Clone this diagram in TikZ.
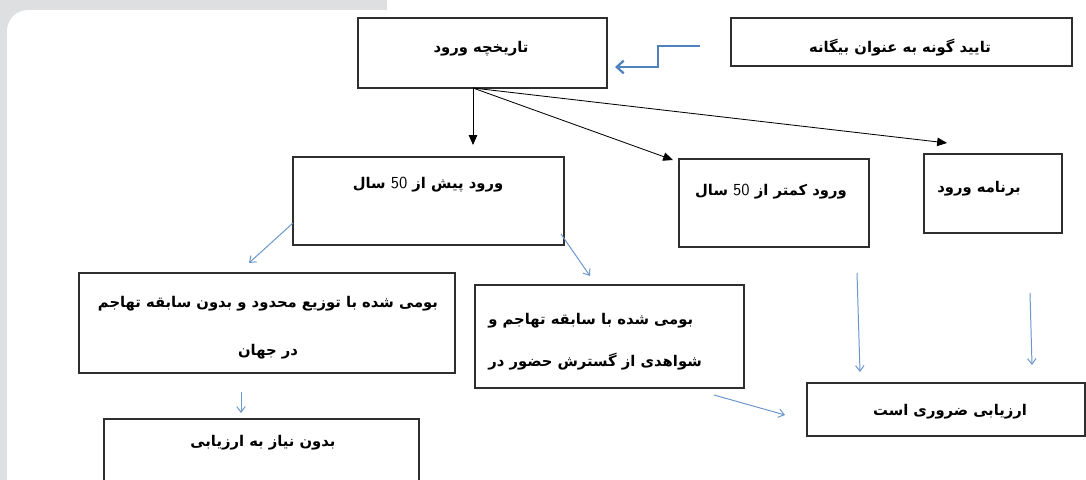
\documentclass[tikz,border=0pt]{standalone}
\usepackage{fontspec}
\newfontfamily\arabicfont[Script=Arabic]{DejaVu Sans}
\TeXXeTstate=1
\usepackage{xcolor}
\usetikzlibrary{arrows.meta,calc,fit}

\definecolor{pagegray}{HTML}{DEDFE1}
\definecolor{elbowblue}{HTML}{4F81BD}
\definecolor{linkblue}{HTML}{6A96CC}
\definecolor{boxline}{HTML}{2E2E2E}

\begin{document}
\begin{tikzpicture}[x=0.025cm,y=-0.025cm,
  box/.style={draw=boxline,line width=.8pt,inner sep=0pt},
  fa/.style={font=\arabicfont\bfseries\fontsize{10.5}{13}\selectfont,inner sep=0pt},
  tree/.style={-{Triangle[length=7pt,width=6pt]},line width=.6pt,black},
  link/.style={-{Straight Barb[length=4pt,width=6pt]},line width=.7pt,linkblue},
  elbow/.style={-{Straight Barb[length=5pt,width=9pt]},line width=1.6pt,elbowblue}]
\useasboundingbox (0,0) rectangle (1086,480);
\clip (0,0) rectangle (1086,480);
% page background
\fill[white] (0,0) rectangle (1086,480);
\fill[pagegray] (0,0) rectangle (387,480);
\fill[white,rounded corners=15] (7,10) rectangle (1120,520);

% boxes
\node[box,fit={(358,18)(607,88)}] (history) {};
\node[box,fit={(731,18)(1072,66)}] (alien) {};
\node[box,fit={(293,157)(564,245)}] (before) {};
\node[box,fit={(679,159)(869,247)}] (after) {};
\node[box,fit={(924,154)(1062,233)}] (plan) {};
\node[box,fit={(79,273)(455,373)}] (limited) {};
\node[box,fit={(475,285)(744,388)}] (invasive) {};
\node[box,fit={(807,383)(1085,436)}] (needed) {};
\node[box,fit={(104,419)(419,500)}] (notneeded) {};

% texts
\node[fa] (history-t) at (481,49) {\beginR تاریخچه ورود\endR};
\node[fa] (alien-t) at (900,48) {\beginR تایید گونه به عنوان بیگانه\endR};
\node[fa] (before-t) at (428,185) {\beginR ورود پیش از \beginL{\sffamily\mdseries\large 50}\endL{} سال\endR};
\node[fa] (after-t) at (771,192) {\beginR ورود کمتر از \beginL{\sffamily\mdseries\large 50}\endL{} سال\endR};
\node[fa] (plan-t) at (979,189) {\beginR برنامه ورود\endR};
\node[fa,align=center,font=\arabicfont\bfseries\fontsize{10.5}{34}\selectfont] (limited-t) at (268,328)
  {\beginR بومی شده با توزیع محدود و بدون سابقه تهاجم\endR\\\beginR در جهان\endR};
\node[fa,align=left,font=\arabicfont\bfseries\fontsize{10.5}{30}\selectfont,anchor=west] (invasive-t) at (488,342)
  {\beginR بومی شده با سابقه تهاجم و\endR\\\beginR شواهدی از گسترش حضور در\endR};
\node[fa] (needed-t) at (950,412) {\beginR ارزیابی ضروری است\endR};
\node[fa] (notneeded-t) at (263,443) {\beginR بدون نیاز به ارزیابی\endR};

% connectors
\coordinate (hub) at (473,88);
\coordinate (before-in) at (473,145);
\coordinate (after-in) at (673,160);
\coordinate (plan-in) at (947,143);
\draw[tree] (hub) -- (before-in);
\draw[tree] (hub) -- (after-in);
\draw[tree] (hub) -- (plan-in);

\coordinate (alien-out) at (700,46);
\coordinate (history-in) at (615,67);
\draw[elbow] (alien-out) -- ++(-42,0) |- (history-in);

\coordinate (before-l) at (293,223);
\coordinate (limited-in) at (249,263);
\coordinate (before-r) at (561,234);
\coordinate (invasive-in) at (590,276);
\coordinate (after-out) at (857,273);
\coordinate (needed-in1) at (860,372);
\coordinate (plan-out) at (1030,293);
\coordinate (needed-in2) at (1032,365);
\coordinate (invasive-out) at (714,395);
\coordinate (needed-in3) at (785,415);
\coordinate (limited-out) at (241,392);
\coordinate (notneeded-in) at (241,413);
\draw[link] (before-l) -- (limited-in);
\draw[link] (before-r) -- (invasive-in);
\draw[link] (after-out) -- (needed-in1);
\draw[link] (plan-out) -- (needed-in2);
\draw[link] (invasive-out) -- (needed-in3);
\draw[link] (limited-out) -- (notneeded-in);
\end{tikzpicture}
\end{document}
